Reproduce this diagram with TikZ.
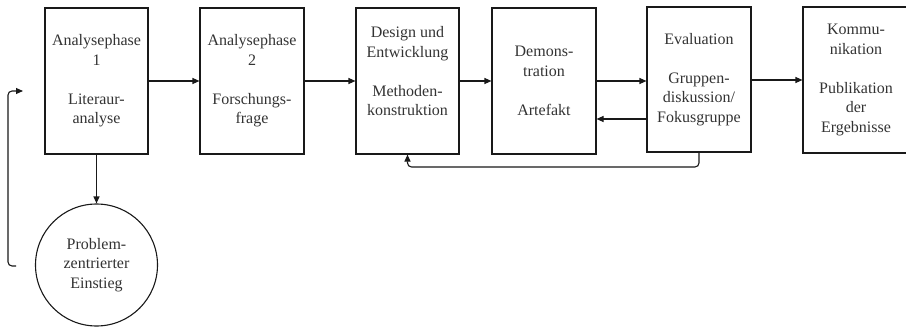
\documentclass[tikz,border=0pt]{standalone}
\usepackage{fontspec}
\setmainfont{Liberation Serif}
\usetikzlibrary{arrows.meta,calc}
\begin{document}
\begin{tikzpicture}[x=1pt,y=-1pt,
  phase/.style={draw=black!90,line width=1.1pt,minimum width=103pt,minimum height=146pt,
    align=center,inner sep=0pt,text=black!80,font=\fontsize{16}{19.5}\selectfont},
  entry/.style={draw=black!90,line width=1.1pt,circle,minimum size=122pt,inner sep=0pt,
    align=center,text=black!80,font=\fontsize{16}{19.5}\selectfont},
  arr/.style={draw=black!90,line width=1.1pt,-{Triangle[length=7pt,width=6pt]}}]
\useasboundingbox (0,0) rectangle (906,329);
\node[phase] (b1) at (96.5,81) {Analysephase\\1\\[19.5pt]Literaur-\\analyse};
\node[phase,minimum width=104pt] (b2) at (252,81) {Analysephase\\2\\[19.5pt]Forschungs-\\frage};
\node[phase] (b3) at (407.5,81) {Design und\\Entwicklung\\[19.5pt]Methoden-\\konstruktion\\~};
\node[phase,minimum width=104pt] (b4) at (544,81) {Demons-\\tration\\[19.5pt]Artefakt};
\node[phase,minimum width=104pt,minimum height=145pt] (b5) at (699,79.5) {Evaluation\\[19.5pt]Gruppen-\\diskussion/\\Fokusgruppe};
\node[phase,minimum width=106pt] (b6) at (856,80) {Kommu-\\nikation\\[19.5pt]Publikation\\der\\Ergebnisse};
\node[entry] (c) at (96.5,265) {Problem-\\zentrierter\\Einstieg};
\coordinate (ls) at (16,266);
\coordinate (le) at (23,91);
\draw[arr] (b1) -- (b2);
\draw[arr] (b2) -- (b3);
\draw[arr] (b3) -- (b4);
\draw[arr] (b4.east) -- (b5.west |- b4.east);
\draw[arr] (b5.east |- 0,80) -- (b6.west |- 0,80);
\draw[arr] (b5.west |- 0,119) -- (b4.east |- 0,119);
\draw[arr,rounded corners=4pt] (b5.south) |- (b3.south |- 0,167) -- (b3.south);
\draw[arr] (b1.south) -- (c.north);
\draw[arr,rounded corners=4pt] (ls) -- (8,266) -- (8,91) -- (le);
\end{tikzpicture}
\end{document}
